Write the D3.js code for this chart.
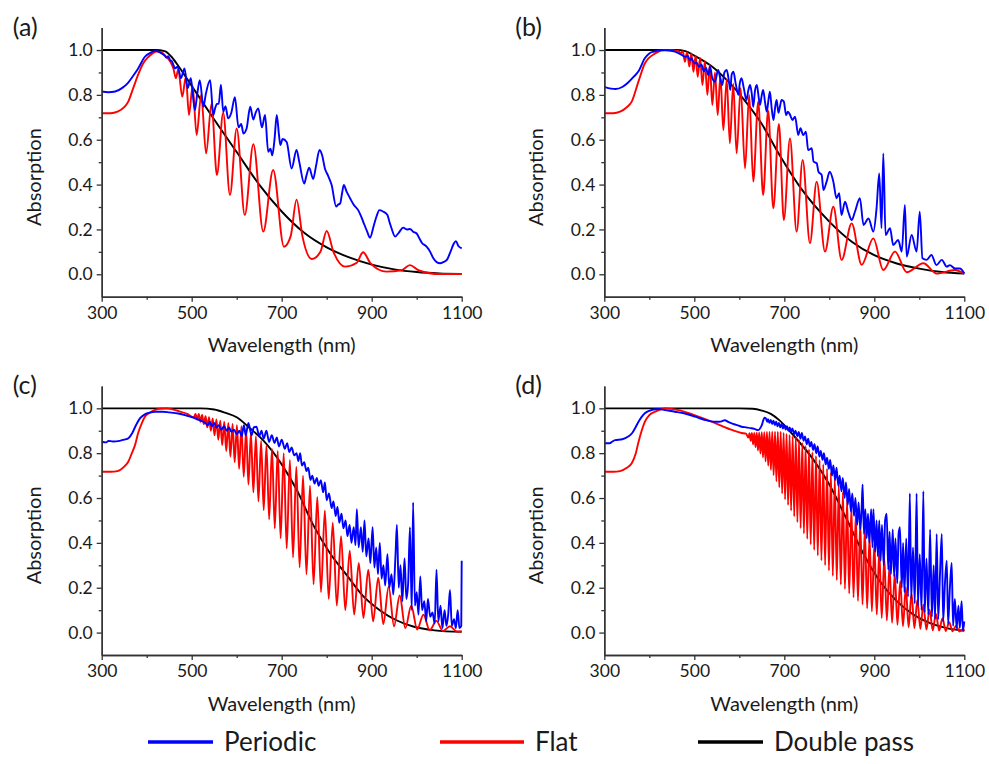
<!DOCTYPE html>
<html><head><meta charset="utf-8">
<script src="https://cdn.jsdelivr.net/npm/d3@7"></script>
<style>
body{margin:0;background:#fff}
svg{display:block}
text{font-family:Lato,"Open Sans",sans-serif;fill:#1a1a1a}
</style>
</head><body>
<svg id="chart" width="989" height="764"></svg>
<script>
const xTicks=[300,500,700,900,1100];
const xMinor=[400,600,800,1000];
const yTicks=[0,0.2,0.4,0.6,0.8,1.0];
const yMinor=[0.1,0.3,0.5,0.7,0.9];
const panelLabels=["(a)","(b)","(c)","(d)"];
const seriesNames=["Periodic","Flat","Double pass"];

// ---- Panel (a) ----
const aBlack=[[300,1],[420,1],[440,.995],[455,.97],[470,.93],[500,.84],[550,.69],[600,.545],[650,.4],[700,.28],[750,.185],[800,.12],[850,.075],[900,.043],[950,.022],[1000,.01],[1050,.004],[1100,.002]];
const aRed=[[300,.718],[320,.718],[335,.725],[350,.745],[359,.77],[370,.83],[381,.89],[392,.94],[404,.97],[413,.985],[422,.993],[432,.99],[441,.975],[452,.95],[459,.92],[465,.874],[470,.915],[479,.792],[487,.88],[494,.71],[502,.84],[511,.621],[521,.8],[532,.539],[544,.76],[556,.443],[570,.72],[585,.353],[600,.65],[618,.264],[637,.58],[659,.19],[681,.465],[705,.123],[720,.17],[733,.333],[746,.17],[767,.068],[786,.1],[800,.193],[815,.1],[841,.034],[866,.05],[881,.098],[897,.05],[933,.012],[966,.018],[985,.041],[1004,.018],[1052,.001],[1100,.001]];
const aBlue=[[300,.815],[315,.812],[330,.815],[345,.83],[359,.855],[370,.885],[381,.918],[396,.97],[410,.99],[420,.996],[433,.985],[440,.975],[444,.965],[448,.972],[452,.955],[456,.95],[460,.93],[463,.918],[469,.926],[476,.874],[484,.918],[491,.83],[498,.874],[507,.732],[512,.8],[518,.866],[526,.747],[531,.8],[541,.866],[548,.71],[552,.74],[556,.76],[560,.76],[565,.845],[570,.725],[575,.75],[581,.695],[588,.72],[596,.79],[604,.655],[610,.67],[615,.628],[622,.65],[630,.747],[637,.69],[642,.72],[648,.74],[656,.655],[663,.71],[670,.546],[675,.56],[679,.53],[684,.6],[689,.71],[694,.62],[697,.576],[702,.603],[711,.59],[722,.472],[733,.554],[739,.502],[750,.405],[755,.44],[761,.475],[770,.425],[776,.48],[784,.554],[790,.53],[796,.472],[803,.44],[811,.398],[821,.302],[825,.31],[830,.316],[834,.36],[838,.398],[844,.37],[852,.339],[860,.31],[870,.286],[876,.26],[881,.235],[890,.19],[896,.163],[905,.22],[911,.26],[917,.286],[925,.28],[935,.264],[940,.23],[944,.205],[952,.168],[960,.185],[970,.208],[978,.2],[985,.202],[992,.19],[1000,.182],[1006,.16],[1011,.142],[1022,.123],[1030,.1],[1037,.071],[1044,.055],[1052,.049],[1060,.055],[1067,.064],[1075,.1],[1082,.135],[1087,.148],[1093,.125],[1100,.116]];

// ---- Panel (b) ----
const bBlack=[[300,1],[460,1],[480,.995],[500,.975],[540,.925],[575,.86],[610,.78],[650,.67],[690,.53],[740,.375],[800,.235],[850,.145],[900,.085],[950,.048],[1000,.025],[1050,.01],[1100,.003]];
const bRed=[[300,.718],[320,.718],[335,.725],[350,.745],[361,.77],[376,.86],[390,.94],[413,.985],[435,1],[464,.996],[470,.985],[474.5,.995],[479,.948],[484,.99],[489,.926],[493.5,.985],[498,.903],[503,.975],[507.5,.881],[513,.965],[518,.844],[523.5,.95],[529,.8],[534.5,.935],[540,.755],[546,.9],[552,.71],[558,.885],[564.5,.643],[572,.87],[579,.584],[586.5,.85],[594,.539],[603,.83],[612.7,.472],[622,.8],[631,.413],[642,.77],[653,.353],[664,.73],[675.6,.294],[688,.67],[699,.242],[712.6,.606],[727.4,.19],[740.8,.51],[757,.138],[771.9,.413],[790.4,.101],[809,.301],[827.4,.064],[849.7,.227],[871.9,.042],[897.8,.16],[920,.019],[946,.101],[972,.009],[1009,.049],[1038.5,.003],[1079,.019],[1100,.002]];
const bBlue=[[300,.836],[315,.828],[325,.826],[340,.835],[353,.855],[365,.88],[376,.905],[390,.963],[400,.985],[410,.993],[427,1],[445,.998],[457,.993],[472,.978],[480,.97],[485,.975],[490,.955],[494,.962],[500,.94],[505,.945],[510,.925],[516,.935],[521,.905],[526,.92],[531,.888],[535,.926],[540,.875],[546,.859],[553,.911],[558,.87],[562,.844],[567,.9],[572,.911],[577,.86],[580,.822],[583,.89],[587,.903],[592,.85],[598,.8],[601,.85],[605,.874],[610,.83],[616,.777],[620,.82],[624,.844],[628,.8],[631,.747],[635,.82],[639,.844],[643,.79],[646,.755],[650,.8],[653,.822],[657,.77],[661,.725],[665,.78],[668,.814],[672,.74],[676,.688],[680,.75],[683,.777],[687,.72],[690,.745],[694,.777],[699,.77],[704,.71],[708,.725],[713,.71],[718,.688],[724,.703],[731,.621],[736,.651],[742,.621],[748,.636],[753,.554],[761,.562],[765,.502],[772,.495],[776,.457],[783,.443],[787,.376],[794,.413],[801,.457],[809,.413],[816,.339],[822,.361],[827,.264],[835,.324],[842,.279],[850,.242],[857,.279],[868,.339],[876,.22],[887,.249],[898,.19],[905,.294],[911,.45],[916,.205],[920,.539],[925,.175],[935,.205],[942,.13],[953,.153],[961,.101],[968,.309],[972,.079],[983,.175],[994,.101],[1001,.279],[1007,.071],[1016,.064],[1027,.086],[1038,.041],[1050,.064],[1061,.034],[1068,.041],[1079,.026],[1090,.026],[1100,.004]];

// ---- Panel (c) ----
const cBlack=[[300,1],[520,1],[550,.995],[575,.98],[600,.96],[630,.91],[660,.855],[700,.75],[735,.63],[770,.48],[807,.355],[845,.255],[880,.165],[918,.1],[955,.055],[992,.027],[1040,.01],[1100,.003]];
const cRed=[[300,.717],[320,.717],[335,.72],[350,.74],[359,.762],[367,.8],[374,.836],[381,.89],[389,.933],[397,.965],[404,.977],[415,.99],[428,.998],[445,1],[470,.988],[490,.975],[505,.96],[508.5,.975],[512.1,.95],[515.8,.975],[519.4,.94],[523.2,.97],[526.9,.93],[530.8,.965],[534.6,.915],[538.6,.96],[542.5,.9],[546.6,.955],[550.7,.88],[554.9,.95],[559.1,.86],[563.5,.945],[567.8,.835],[572.3,.94],[576.8,.81],[581.4,.935],[586,.785],[590.8,.93],[595.5,.76],[600.5,.925],[605.4,.73],[610.5,.92],[615.6,.695],[620.9,.905],[626.1,.66],[631.6,.89],[637,.625],[642.7,.875],[648.3,.585],[654.2,.855],[660,.545],[666.1,.835],[672.1,.505],[678.4,.82],[684.6,.465],[691.1,.81],[697.6,.42],[704.4,.8],[711.1,.375],[718.2,.77],[725.2,.335],[732.5,.74],[739.8,.29],[747.4,.7],[755,.26],[762.9,.655],[770.8,.215],[779.1,.605],[787.3,.18],[795.9,.545],[804.5,.15],[813.5,.49],[822.5,.12],[831.9,.43],[841.3,.1],[851.2,.365],[861,.08],[871.3,.31],[881.6,.065],[892.4,.28],[903.2,.05],[914.5,.245],[925.8,.038],[937.7,.205],[949.6,.028],[962.2,.165],[974.7,.02],[987.9,.12],[1001.1,.014],[1015,.08],[1028.9,.01],[1043.6,.052],[1058.3,.007],[1073.9,.028],[1089.4,.005],[1100,.006]];
const cBlue=[[300,.851],[310,.848],[315,.855],[325,.852],[340,.855],[350,.86],[360,.868],[368,.89],[375,.92],[385,.955],[395,.972],[405,.98],[420,.985],[435,.985],[450,.982],[470,.977],[490,.967],[505,.958],[520,.945],[530,.935],[536,.925],[540,.94],[545,.92],[550,.935],[555,.915],[560,.925],[566,.905],[572,.92],[578,.9],[583,.915],[588,.895],[594,.905],[600,.885],[606,.9],[611,.875],[616,.925],[620,.88],[626,.935],[633,.88],[638,.915],[644,.918],[650,.875],[655,.9],[660,.865],[666,.9],[672,.85],[678,.88],[684,.845],[689,.87],[694,.83],[700,.86],[707,.82],[712,.845],[717,.805],[722,.825],[728,.79],[733,.8],[737,.765],[741,.8],[745,.745],[750,.76],[755,.72],[759,.735],[764,.68],[768,.7],[773,.665],[778,.69],[782,.655],[787,.68],[792,.625],[796,.67],[800,.59],[805,.62],[811,.555],[815,.585],[820,.52],[824,.56],[828,.49],[833,.53],[837,.465],[842,.5],[846,.43],[851,.48],[855,.4],[860,.47],[864,.39],[867,.55],[871,.38],[876,.47],[880,.36],[884,.5],[888,.34],[893,.42],[897,.31],[902,.47],[906,.29],[910,.38],[914,.26],[918,.4],[922,.24],[926,.3],[930,.21],[935,.35],[939,.2],[944,.26],[948,.17],[953,.35],[956,.48],[960,.2],[964,.3],[968,.14],[973,.33],[977,.15],[981,.22],[985,.47],[989,.1],[992,.58],[996,.12],[1000,.18],[1004,.08],[1008,.25],[1012,.1],[1017,.14],[1021,.05],[1025,.15],[1030,.07],[1035,.09],[1040,.04],[1044,.28],[1048,.05],[1053,.12],[1057,.02],[1062,.1],[1066,.03],[1070,.08],[1074,.19],[1078,.03],[1083,.06],[1087,.02],[1091,.1],[1095,.02],[1099,.03],[1100,.32]];

// ---- Panel (d) ----
const dBlack=[[300,1],[600,1],[630,.998],[650,.99],[670,.975],[690,.945],[720,.88],[765,.77],[800,.66],[840,.5],[875,.355],[912,.23],[950,.14],[987,.08],[1024,.042],[1061,.02],[1100,.008]];
const dRed=[[300,.717],[320,.717],[335,.72],[350,.735],[361,.755],[370,.8],[376,.85],[383,.9],[390,.94],[400,.97],[413,.985],[435,1],[465,.992],[500,.97],[540,.94],[575,.91],[605,.89],[615,.887],[620.1,.87],[622.7,.889],[625.3,.855],[628,.89],[630.6,.84],[633.3,.89],[636,.827],[638.8,.891],[641.5,.812],[644.2,.892],[647,.798],[649.9,.893],[652.7,.781],[655.5,.894],[658.4,.763],[661.4,.895],[664.3,.744],[667.2,.895],[670.2,.726],[673.2,.896],[676.3,.702],[679.4,.896],[682.5,.675],[685.6,.896],[688.8,.648],[692,.896],[695.2,.62],[698.5,.89],[701.7,.594],[705,.886],[708.4,.569],[711.8,.881],[715.1,.544],[718.6,.876],[722,.518],[725.6,.871],[729.1,.492],[732.7,.86],[736.3,.466],[740,.846],[743.6,.442],[747.3,.832],[751,.418],[754.9,.818],[758.7,.393],[762.5,.804],[766.4,.368],[770.4,.788],[774.4,.344],[778.5,.77],[782.5,.322],[786.6,.751],[790.7,.3],[795,.732],[799.2,.277],[803.5,.713],[807.8,.253],[812.2,.689],[816.6,.234],[821.1,.658],[825.6,.214],[830.2,.626],[834.8,.194],[839.5,.593],[844.2,.174],[849.1,.56],[853.9,.157],[858.8,.528],[863.7,.141],[868.8,.496],[873.8,.125],[878.9,.464],[884.1,.108],[889.4,.431],[894.6,.094],[900.1,.399],[905.5,.08],[911,.367],[916.5,.065],[922.2,.333],[927.9,.054],[933.7,.299],[939.5,.044],[945.5,.264],[951.4,.035],[957.6,.229],[963.7,.028],[970,.202],[976.2,.024],[982.7,.174],[989.1,.02],[995.7,.147],[1002.3,.016],[1009.1,.125],[1015.8,.013],[1022.8,.103],[1029.8,.01],[1037,.083],[1044.1,.009],[1051.5,.064],[1058.8,.007],[1066.4,.046],[1074,.006],[1081.8,.031],[1089.5,.005],[1097.3,.015],[1100,.008]];
const dBlue=[[300,.844],[312,.844],[318,.852],[324,.858],[340,.862],[353,.874],[362,.89],[368,.91],[376,.94],[383,.962],[390,.978],[398,.988],[420,.997],[435,.992],[457,.985],[479,.977],[502,.963],[524,.948],[546,.94],[556,.94],[562,.943],[568,.947],[575,.94],[583,.933],[595,.925],[605,.918],[615,.915],[627,.911],[635,.907],[642,.903],[646,.91],[650,.925],[653,.945],[656,.958],[659,.955],[662,.94],[664,.952],[667,.935],[670,.948],[673,.93],[676,.945],[679,.925],[682,.94],[685,.92],[688,.935],[691,.915],[694,.93],[697,.91],[700,.925],[703,.905],[706,.92],[709,.9],[712,.915],[715,.895],[718,.91],[722,.885],[725,.9],[729,.875],[732,.895],[736,.865],[739,.89],[743,.855],[746,.875],[750,.84],[753,.865],[757,.83],[760,.85],[764,.815],[767,.84],[771,.8],[774,.83],[778,.785],[781,.81],[785,.77],[788,.8],[792,.75],[795,.78],[799,.73],[802,.77],[806,.7],[809,.745],[813,.68],[816,.735],[820,.655],[823,.7],[827,.63],[830,.69],[834,.6],[837,.67],[841,.57],[844,.64],[848,.54],[851,.62],[855,.52],[858,.6],[862,.48],[865,.58],[869,.46],[872,.56],[874,.66],[877,.44],[880,.55],[883,.42],[886,.53],[889,.4],[893,.55],[896,.38],[898,.55],[902,.36],[905,.5],[908,.34],[911,.5],[914,.32],[917,.48],[921,.3],[924,.5],[927.5,.53],[931,.28],[934,.45],[937,.26],[941,.46],[944,.25],[947,.42],[951,.22],[954,.44],[957,.47],[961,.2],[964,.4],[967,.18],[971,.42],[975,.16],[979,.62],[982,.15],[986,.38],[990,.13],[994,.62],[997,.12],[1001,.35],[1005,.1],[1009,.63],[1012,.09],[1016,.33],[1020,.08],[1024,.46],[1028,.07],[1032,.3],[1035,.06],[1038.6,.44],[1042,.06],[1046,.26],[1050,.44],[1053,.05],[1057,.22],[1061,.32],[1064,.04],[1068,.2],[1072,.31],[1075,.03],[1079,.15],[1083,.02],[1087,.12],[1090,.02],[1094,.14],[1097,.01],[1100,.05]];

const panels=[
  {label:panelLabels[0],left:101.7,top:27.6,blue:aBlue,red:aRed,black:aBlack},
  {label:panelLabels[1],left:604.3,top:27.6,blue:bBlue,red:bRed,black:bBlack},
  {label:panelLabels[2],left:101.7,top:385.9,blue:cBlue,red:cRed,black:cBlack},
  {label:panelLabels[3],left:604.3,top:385.9,blue:dBlue,red:dRed,black:dBlack}
];
const W=360,H=269.1;
const colors={blue:"#0000ff",red:"#ff0000",black:"#000000"};
const svg=d3.select("#chart");

panels.forEach(p=>{
  const x=d3.scaleLinear().domain([300,1100]).range([p.left,p.left+W]);
  const y=d3.scaleLinear().domain([-0.1,1.1]).range([p.top+H,p.top]);
  const g=svg.append("g");
  const line=d3.line().x(d=>x(d[0])).y(d=>y(d[1])).curve(d3.curveMonotoneX);
  [["black",p.black],["red",p.red],["blue",p.blue]].forEach(([k,data])=>{
    g.append("path").datum(data).attr("d",line)
      .attr("fill","none").attr("stroke",colors[k]).attr("stroke-width",1.9)
      .attr("stroke-linejoin","round");
  });
  g.append("g").attr("transform",`translate(0,${y(-0.1)})`)
    .call(d3.axisBottom(x).tickValues(xTicks).tickSize(5).tickSizeOuter(0).tickPadding(5).tickFormat(d3.format("d")));
  g.append("g").attr("transform",`translate(0,${y(-0.1)})`)
    .call(d3.axisBottom(x).tickValues(xMinor).tickSize(3).tickSizeOuter(0).tickFormat(""));
  g.append("g").attr("transform",`translate(${x(300)},0)`)
    .call(d3.axisLeft(y).tickValues(yTicks).tickSize(5).tickSizeOuter(0).tickPadding(4).tickFormat(d3.format(".1f")));
  g.append("g").attr("transform",`translate(${x(300)},0)`)
    .call(d3.axisLeft(y).tickValues(yMinor).tickSize(3).tickSizeOuter(0).tickFormat(""));
  g.selectAll(".domain").attr("stroke","#333").attr("stroke-width",1.4);
  g.selectAll(".tick line").attr("stroke","#333").attr("stroke-width",1.3);
  g.selectAll(".tick text").attr("font-size",17.5).attr("font-family","Lato").attr("fill","#1a1a1a");
  g.append("text").attr("x",p.left+W/2).attr("y",p.top+H+55.5)
    .attr("text-anchor","middle").attr("font-size",20).text("Wavelength (nm)");
  g.append("text").attr("transform",`translate(${p.left-61},${p.top+149.5}) rotate(-90)`)
    .attr("text-anchor","middle").attr("font-size",20).text("Absorption");
  g.append("text").attr("x",p.left-89).attr("y",p.top+8)
    .attr("font-size",25).text(p.label);
});

const legend=[{name:seriesNames[0],c:colors.blue,x1:148,x2:213},
              {name:seriesNames[1],c:colors.red,x1:440,x2:524},
              {name:seriesNames[2],c:colors.black,x1:698,x2:763}];
const lg=svg.append("g");
legend.forEach(l=>{
  lg.append("line").attr("x1",l.x1).attr("x2",l.x2).attr("y1",742).attr("y2",742)
    .attr("stroke",l.c).attr("stroke-width",3.5);
  lg.append("text").attr("x",l.x2+11).attr("y",742).attr("dy","0.35em")
    .attr("font-size",26).text(l.name);
});
</script>
</body></html>
